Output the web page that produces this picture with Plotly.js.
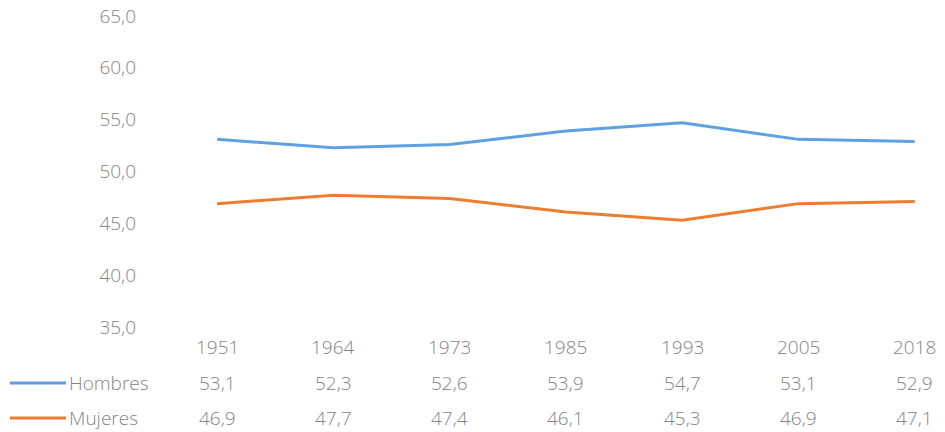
<!DOCTYPE html>
<html>
<head>
<meta charset="utf-8">
<script src="https://cdn.plot.ly/plotly-3.0.1.min.js"></script>
<style>
  html, body { margin: 0; padding: 0; background: #ffffff; }
  #chart { width: 945px; height: 432px; }
</style>
</head>
<body>
<div id="chart"></div>
<script>
var years = ['1951', '1964', '1973', '1985', '1993', '2005', '2018'];
var hombres = [53.1, 52.3, 52.6, 53.9, 54.7, 53.1, 52.9];
var mujeres = [46.9, 47.7, 47.4, 46.1, 45.3, 46.9, 47.1];
var seriesNames = ['Hombres', 'Mujeres'];
var seriesColors = ['#5fa0e0', '#ed7d31'];

var textFont = {family: 'Open Sans, sans-serif', size: 19, weight: 300, color: '#858585'};

function fmt(v) {
  return v.toFixed(1).replace('.', ',');
}

var traces = [
  {x: years, y: hombres, name: seriesNames[0], type: 'scatter', mode: 'lines',
   line: {color: seriesColors[0], width: 3}},
  {x: years, y: mujeres, name: seriesNames[1], type: 'scatter', mode: 'lines',
   line: {color: seriesColors[1], width: 3}}
];

// data table under the plot (Excel style)
var annotations = [];
var shapes = [];
var rowY = [347, 383, 418];   // pixel centres of the three table rows
var plotTop = 16, plotBottom = 327, H = 432;
var plotLeft = 159, W = 945;

function rowYpaper(py) {
  // paper y: 0 at plot bottom, 1 at plot top
  return (plotBottom - py) / (plotBottom - plotTop);
}

function paperX(px) {
  return (px - plotLeft) / (W - plotLeft);
}

// category axis: annotations use the category index
years.forEach(function(yr, i) {
  annotations.push({x: i, xref: 'x', y: rowYpaper(rowY[0]), yref: 'paper',
    text: yr, showarrow: false, font: textFont, xanchor: 'center', yanchor: 'middle'});
  annotations.push({x: i, xref: 'x', y: rowYpaper(rowY[1]), yref: 'paper',
    text: fmt(hombres[i]), showarrow: false, font: textFont, xanchor: 'center', yanchor: 'middle'});
  annotations.push({x: i, xref: 'x', y: rowYpaper(rowY[2]), yref: 'paper',
    text: fmt(mujeres[i]), showarrow: false, font: textFont, xanchor: 'center', yanchor: 'middle'});
});

seriesNames.forEach(function(name, k) {
  var py = rowYpaper(rowY[k + 1]);
  shapes.push({type: 'line', xref: 'paper', yref: 'paper',
    x0: paperX(10), x1: paperX(66), y0: py, y1: py,
    line: {color: seriesColors[k], width: 3}});
  annotations.push({x: paperX(67), xref: 'paper', y: py, yref: 'paper',
    text: name, showarrow: false, font: textFont, xanchor: 'left', yanchor: 'middle'});
});

var layout = {
  width: 945,
  height: 432,
  margin: {l: plotLeft, r: 0, t: plotTop, b: H - plotBottom, pad: 0},
  paper_bgcolor: '#ffffff',
  plot_bgcolor: '#ffffff',
  showlegend: false,
  separators: ',.',
  font: textFont,
  xaxis: {
    type: 'category',
    range: [-0.5, 6.26],
    showticklabels: false,
    showgrid: false,
    zeroline: false,
    showline: false,
    ticks: ''
  },
  yaxis: {
    range: [35, 65],
    dtick: 5,
    tickformat: '.1f',
    showgrid: false,
    zeroline: false,
    showline: false,
    ticks: '',
    ticklabelstandoff: 22,
    tickfont: textFont
  },
  shapes: shapes,
  annotations: annotations
};

var config = {
  responsive: false,
  displayModeBar: false,
  staticPlot: true
};

Plotly.newPlot('chart', traces, layout, config);
</script>
</body>
</html>
